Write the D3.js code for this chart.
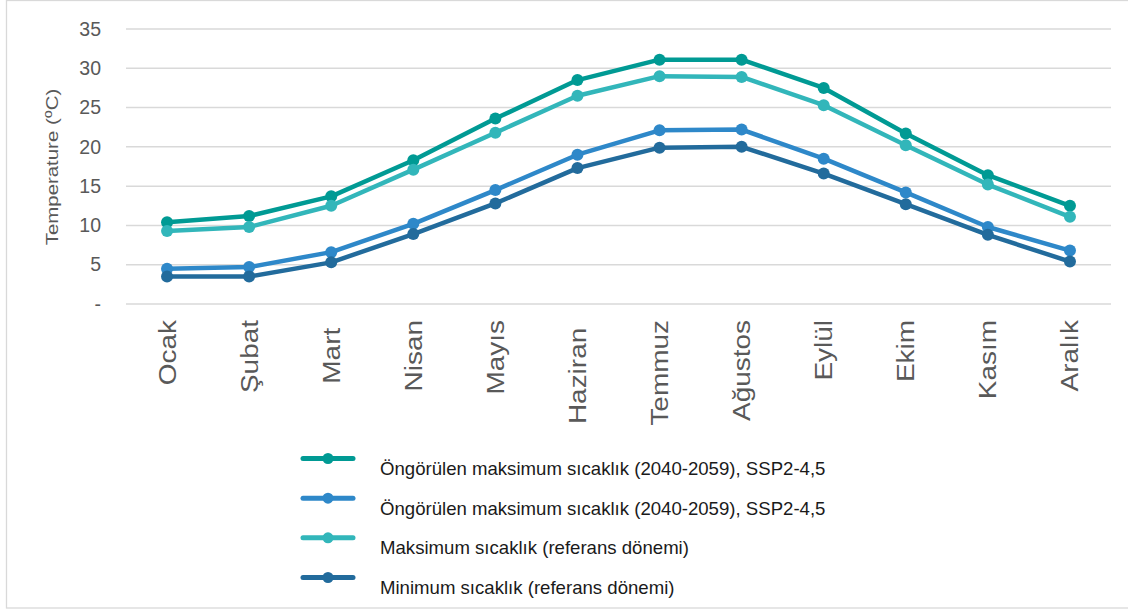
<!DOCTYPE html>
<html>
<head>
<meta charset="utf-8">
<script src="https://cdn.jsdelivr.net/npm/d3@7"></script>
<style>
  html, body { margin: 0; padding: 0; background: #fff; }
  svg { display: block; font-family: "Liberation Sans", Arial, sans-serif; }
</style>
</head>
<body>
<svg id="chart" width="1128" height="612"></svg>
<script>
// Monthly temperatures (°C)
const months = ["Ocak", "Şubat", "Mart ", "Nisan", "Mayıs", "Haziran ", "Temmuz", "Ağustos", "Eylül", "Ekim", "Kasım", "Aralık"];
const projectedMax = [10.4, 11.2, 13.7, 18.3, 23.6, 28.5, 31.1, 31.1, 27.5, 21.7, 16.4, 12.5];
const projectedMin = [4.5, 4.7, 6.6, 10.2, 14.5, 19.0, 22.1, 22.2, 18.5, 14.2, 9.8, 6.8];
const referenceMax = [9.3, 9.8, 12.5, 17.1, 21.8, 26.5, 29.0, 28.9, 25.3, 20.2, 15.2, 11.1];
const referenceMin = [3.5, 3.5, 5.3, 8.9, 12.8, 17.3, 19.9, 20.0, 16.6, 12.7, 8.8, 5.4];
const yTicks = [0, 5, 10, 15, 20, 25, 30, 35];
const seriesNames = [
  "Öngörülen maksimum sıcaklık (2040-2059), SSP2-4,5",
  "Öngörülen maksimum sıcaklık (2040-2059), SSP2-4,5",
  "Maksimum sıcaklık (referans dönemi)",
  "Minimum sıcaklık (referans dönemi)"
];
const seriesColors = ["#009A94", "#2E88C9", "#32B6BA", "#226B9C"];

const series = [projectedMax, projectedMin, referenceMax, referenceMin].map((values, i) => ({
  name: seriesNames[i], color: seriesColors[i], values
}));

const svg = d3.select("#chart");
const textColor = "#595959";
const gridColor = "#D9D9D9";

// outer frame
svg.append("rect")
  .attr("x", 6.5).attr("y", 0.5).attr("width", 1130).attr("height", 607.5)
  .attr("fill", "none").attr("stroke", gridColor).attr("stroke-width", 1.3);

const x = d3.scaleBand().domain(months).range([126, 1111]);
const y = d3.scaleLinear().domain([0, 35]).range([304, 29]);
const cx = m => x(m) + x.bandwidth() / 2;

// horizontal gridlines
svg.append("g").selectAll("line").data(yTicks).join("line")
  .attr("x1", 126).attr("x2", 1111)
  .attr("y1", d => y(d)).attr("y2", d => y(d))
  .attr("stroke", gridColor).attr("stroke-width", 1.5);

// y axis tick labels
const yAxis = svg.append("g").attr("transform", "translate(101,0)")
  .call(d3.axisLeft(y).tickValues(yTicks).tickSize(0).tickPadding(0)
    .tickFormat(d => d === 0 ? "-" : d));
yAxis.select(".domain").remove();
yAxis.selectAll("text")
  .attr("fill", textColor).attr("font-size", 19.5)
  .attr("font-family", "Liberation Sans, Arial, sans-serif");

// y axis title
const yTitle = svg.append("text")
  .attr("transform", "translate(58,167) rotate(-90) scale(1.2,1)")
  .attr("text-anchor", "middle")
  .attr("fill", textColor).attr("font-size", 17);
yTitle.append("tspan").text("Temperature (");
yTitle.append("tspan").attr("font-size", 12).attr("dy", -6).text("o");
yTitle.append("tspan").attr("dy", 6).text("C)");

// x axis category labels
const xAxis = svg.append("g").attr("transform", "translate(0,304)")
  .call(d3.axisBottom(x).tickSize(0).tickPadding(0));
xAxis.select(".domain").remove();
xAxis.selectAll("text")
  .attr("xml:space", "preserve")
  .style("white-space", "pre")
  .attr("fill", textColor).attr("font-size", 24)
  .attr("font-family", "Liberation Sans, Arial, sans-serif")
  .attr("text-anchor", "end")
  .attr("x", 0).attr("y", 0).attr("dy", null)
  .attr("transform", "translate(8.5,16) rotate(-90) scale(1.165,1)");

// lines and markers
const line = d3.line().x((d, i) => cx(months[i])).y(d => y(d));
const plot = svg.append("g");
series.forEach(s => {
  const g = plot.append("g");
  g.append("path").datum(s.values)
    .attr("d", line).attr("fill", "none")
    .attr("stroke", s.color).attr("stroke-width", 4.5)
    .attr("stroke-linejoin", "round");
  g.selectAll("circle").data(s.values).join("circle")
    .attr("cx", (d, i) => cx(months[i])).attr("cy", d => y(d))
    .attr("r", 6).attr("fill", s.color);
});

// legend
const legend = svg.append("g");
const legendY = d3.scaleLinear().domain([0, 3]).range([458.5, 577.5]);
series.forEach((s, i) => {
  const ly = legendY(i);
  legend.append("line")
    .attr("x1", 303).attr("x2", 353).attr("y1", ly).attr("y2", ly)
    .attr("stroke", s.color).attr("stroke-width", 5).attr("stroke-linecap", "round");
  legend.append("circle").attr("cx", 328).attr("cy", ly).attr("r", 5.5).attr("fill", s.color);
  legend.append("text")
    .attr("x", 380).attr("y", ly + 16.5)
    .attr("fill", "#1a1a1a").attr("font-size", 18.6)
    .text(s.name);
});
</script>
</body>
</html>
